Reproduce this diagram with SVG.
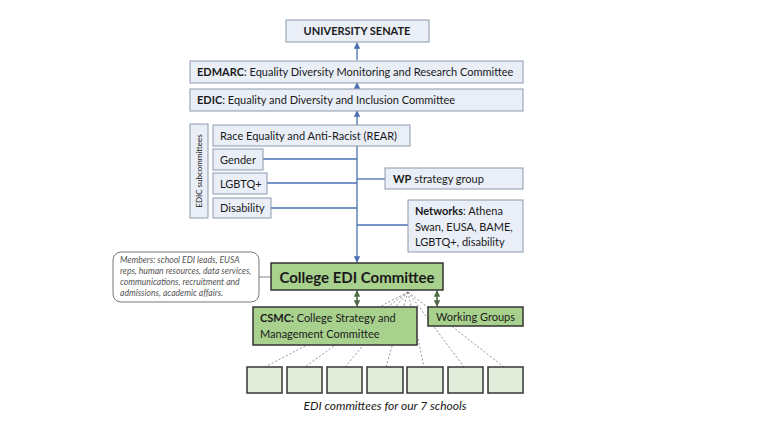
<svg xmlns="http://www.w3.org/2000/svg" width="768" height="432" viewBox="0 0 768 432">
<defs>
<style>
text{font-family:Lato,"Liberation Sans",sans-serif;fill:#1a1a1a}
.bx{fill:#e9eef7;stroke:#8c99ab;stroke-width:1}
.gr{fill:#a9d18e;stroke:#333;stroke-width:1.5}
.sm{fill:#e2eedb;stroke:#333;stroke-width:1.5}
.ln{stroke:#4a70b3;stroke-width:1.3;fill:none}
.dl{stroke:#777;stroke-width:0.8;stroke-dasharray:2 2;fill:none}
.ga{stroke:#4f6b45;stroke-width:1.6;fill:none}
.t{font-size:11px}
.b{font-weight:bold}
.m{fill:#555}
</style>
<marker id="ab" viewBox="0 0 10 10" refX="9" refY="5" markerWidth="5" markerHeight="5" orient="auto-start-reverse"><path d="M0,0L10,5L0,10z" fill="#4a70b3"/></marker>
<marker id="ag" viewBox="0 0 10 10" refX="9" refY="5" markerWidth="4" markerHeight="4" orient="auto-start-reverse"><path d="M0,0L10,5L0,10z" fill="#4f6b45"/></marker>
</defs>
<rect width="768" height="432" fill="#fff"/>
<g id="connectors">
<line class="ln" x1="357" y1="60" x2="357" y2="43" marker-end="url(#ab)"/>
<line class="ln" x1="357" y1="88" x2="357" y2="83" marker-end="url(#ab)"/>
<line class="ln" x1="357" y1="125" x2="357" y2="111" marker-end="url(#ab)"/>
<line class="ln" x1="357" y1="146" x2="357" y2="262" marker-end="url(#ab)"/>
<line class="ln" x1="263" y1="159" x2="357" y2="159"/>
<line class="ln" x1="267" y1="183" x2="357" y2="183"/>
<line class="ln" x1="271" y1="208" x2="357" y2="208"/>
<line class="ln" x1="357" y1="179" x2="385" y2="179"/>
<line class="ln" x1="357" y1="225" x2="408" y2="225"/>
<line x1="259" y1="277" x2="271" y2="277" stroke="#888" stroke-width="1"/>
<line class="ga" x1="357" y1="291" x2="357" y2="306" marker-start="url(#ag)" marker-end="url(#ag)"/>
<line class="ga" x1="437" y1="291" x2="437" y2="306" marker-start="url(#ag)" marker-end="url(#ag)"/>
<g class="dl">
<line x1="408" y1="292" x2="265" y2="367"/>
<line x1="408" y1="292" x2="305" y2="367"/>
<line x1="408" y1="292" x2="345" y2="367"/>
<line x1="408" y1="292" x2="386" y2="367"/>
<line x1="408" y1="292" x2="424" y2="367"/>
<line x1="408" y1="292" x2="464" y2="367"/>
<line x1="408" y1="292" x2="504" y2="367"/>
</g>
</g>
<g id="senate"><rect class="bx" x="286" y="20" width="143" height="22"/><text class="t b" x="357" y="35" text-anchor="middle">UNIVERSITY SENATE</text></g>
<g id="edmarc"><rect class="bx" x="190" y="61" width="333" height="22"/><text class="t" x="197" y="76"><tspan class="b">EDMARC</tspan>: Equality Diversity Monitoring and Research Committee</text></g>
<g id="edic"><rect class="bx" x="190" y="89" width="333" height="22"/><text class="t" x="197" y="104"><tspan class="b">EDIC</tspan>: Equality and Diversity and Inclusion Committee</text></g>
<g id="subcommittees"><rect class="bx" x="190" y="124" width="18" height="94"/><text x="202" y="171" font-size="8" text-anchor="middle" transform="rotate(-90 202 171)">EDIC subcommittees</text></g>
<g id="rear"><rect class="bx" x="213" y="125" width="197" height="21"/><text class="t" x="220" y="140">Race Equality and Anti-Racist (REAR)</text></g>
<g id="gender"><rect class="bx" x="213" y="149" width="50" height="21"/><text class="t" x="220" y="164">Gender</text></g>
<g id="lgbtq"><rect class="bx" x="213" y="173" width="54" height="21"/><text class="t" x="220" y="188">LGBTQ+</text></g>
<g id="disability"><rect class="bx" x="213" y="198" width="58" height="20"/><text class="t" x="220" y="212">Disability</text></g>
<g id="wp"><rect class="bx" x="385" y="168" width="138" height="21"/><text class="t" x="393" y="183"><tspan class="b">WP</tspan> strategy group</text></g>
<g id="networks"><rect class="bx" x="408" y="200" width="115" height="52"/><text class="t" x="415" y="215"><tspan class="b">Networks</tspan>: Athena</text><text class="t" x="415" y="231">Swan, EUSA, BAME,</text><text class="t" x="415" y="246">LGBTQ+, disability</text></g>
<g id="members"><rect x="113" y="252" width="146" height="50" rx="8" fill="#fff" stroke="#777" stroke-width="1"/><g font-size="8.6" font-style="italic"><text class="m" x="120" y="263">Members: school EDI leads, EUSA</text><text class="m" x="120" y="274">reps, human resources, data services,</text><text class="m" x="120" y="285">communications, recruitment and</text><text class="m" x="120" y="296">admissions, academic affairs.</text></g></g>
<g id="college"><rect class="gr" x="271" y="263" width="172" height="27"/><text x="357" y="282.5" font-size="15" font-weight="bold" text-anchor="middle">College EDI Committee</text></g>
<g id="csmc"><rect class="gr" x="253" y="307" width="164" height="38"/><text class="t" x="260" y="322"><tspan class="b">CSMC:</tspan> College Strategy and</text><text class="t" x="260" y="338">Management Committee</text></g>
<g id="working"><rect class="gr" x="428" y="307" width="95" height="19"/><text class="t" x="475.5" y="320.5" text-anchor="middle">Working Groups</text></g>
<g id="schools">
<rect class="sm" x="247" y="367" width="35" height="26"/>
<rect class="sm" x="287" y="367" width="35" height="26"/>
<rect class="sm" x="327" y="367" width="35" height="26"/>
<rect class="sm" x="367" y="367" width="36" height="26"/>
<rect class="sm" x="407" y="367" width="36" height="26"/>
<rect class="sm" x="448" y="367" width="35" height="26"/>
<rect class="sm" x="488" y="367" width="35" height="26"/>
<text x="385" y="410" font-size="12" font-style="italic" text-anchor="middle">EDI committees for our 7 schools</text>
</g>
</svg>
